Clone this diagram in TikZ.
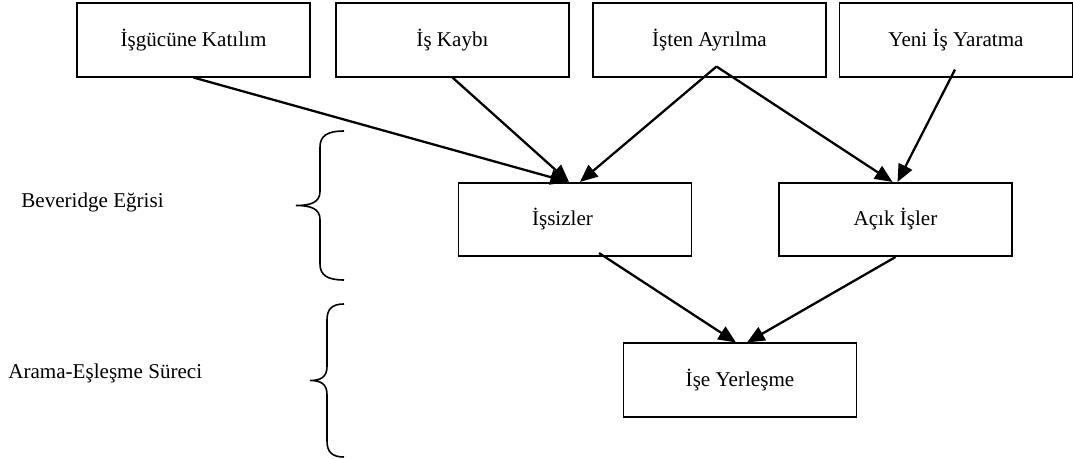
\documentclass[tikz,border=0pt]{standalone}
\usepackage{fontspec}
\setmainfont{Liberation Serif}
\usetikzlibrary{calc}
\usetikzlibrary{arrows.meta}
\tikzset{
  box/.style = {draw=#1, line width=0.9pt, rectangle, minimum width=4.66cm, minimum height=1.47cm, inner sep=0pt, font=\fontsize{12}{14}\selectfont},
  side/.style = {color=#1, inner sep=0pt, font=\fontsize{12}{14}\selectfont},
  flow/.style = {color=#1, line width=1.3pt, -{Triangle[length=10pt,width=8.5pt]}},
  bracket/.style = {color=#1, line width=0.9pt}
}
\newcommand{\wordbrace}[4][]{%
  % #1: optional style (e.g. color=red, thick)
  % #2: upper end point
  % #3: height of the brace
  % #4: width of the brace (tip to ends)
  \begin{scope}[shift={(#2)}, #1]
    \draw[bracket={black}] (0,0) .. controls (-0.35*#4,0) and (-0.5*#4,5) .. (-0.5*#4,16)
      -- (-0.5*#4,0.5*#3-14) .. controls (-0.5*#4,0.5*#3-3) and (-0.7*#4,0.5*#3) .. (-#4,0.5*#3)
      .. controls (-0.7*#4,0.5*#3) and (-0.5*#4,0.5*#3+3) .. (-0.5*#4,0.5*#3+14)
      -- (-0.5*#4,#3-16) .. controls (-0.5*#4,#3-5) and (-0.35*#4,#3) .. (0,#3);
  \end{scope}
}

\begin{document}
\begin{tikzpicture}[x=0.02cm, y=-0.02cm]

    \useasboundingbox (0,0) rectangle (1073,459);

    % Inflows
    \node[box={black}] (kat) at (193.5,40) {İşgücüne Katılım};
    \node[box={black}] (kay) at (452.5,40) {İş Kaybı};
    \node[box={black}] (ayr) at (709.5,40) {İşten Ayrılma};
    \node[box={black}] (yen) at (956,40) {Yeni İş Yaratma};

    % Stocks
    \node[box={black}] (iss) at (575,219.5) {İşsizler\hspace*{0.5cm}};
    \node[box={black}] (acik) at (895.5,219.5) {Açık İşler};
    \node[box={black}] (yer) at (740,380) {İşe Yerleşme};

    % Flows
    \draw[flow={black}] (kat.south) -- ($(iss.north)+(-7,0)$);
    \draw[flow={black}] (kay.south) -- ($(iss.north)+(-6,0)$);
    \draw[flow={black}] ($(ayr.south)+(7,-11)$) -- ($(iss.north)+(5,0)$);
    \draw[flow={black}] ($(ayr.south)+(7,-11)$) -- ($(acik.north)+(-3,0)$);
    \draw[flow={black}] ($(yen.south)+(-1,-8)$) -- ($(acik.north)+(2,0)$);
    \draw[flow={black}] ($(iss.south)+(24,-4)$) -- ($(yer.north)+(-4,0)$);
    \draw[flow={black}] (acik.south) -- ($(yer.north)+(7,0)$);

    % Braces
    \wordbrace{344,131}{149}{48}
    \wordbrace{344,304}{153}{34}

    % Labels
    \node[side={black}, anchor=base west] (bev) at (21,208) {Beveridge Eğrisi};
    \node[side={black}, anchor=base west] (ara) at (8,379) {Arama-Eşleşme Süreci};

\end{tikzpicture}
\end{document}
